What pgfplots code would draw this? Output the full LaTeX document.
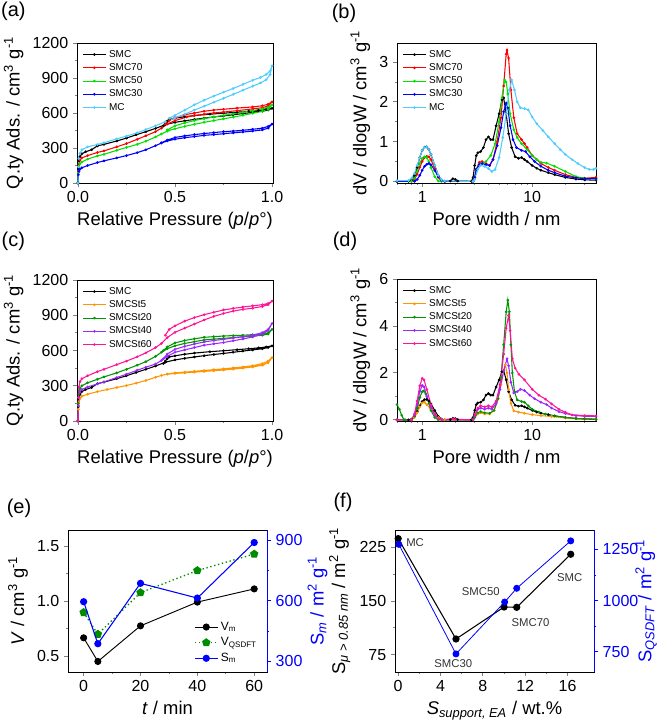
\documentclass[border=0pt]{standalone}
\usepackage{fontspec}
\setmainfont{Liberation Sans}
\usepackage{pgfplots}
\pgfplotsset{compat=1.18}
\usetikzlibrary{plotmarks}

\definecolor{cMC}{RGB}{80,205,255}
\definecolor{cR}{RGB}{255,0,0}
\definecolor{cG}{RGB}{0,225,0}
\definecolor{cB}{RGB}{0,0,255}
\definecolor{cOr}{RGB}{255,150,0}
\definecolor{cDG}{RGB}{0,150,0}
\definecolor{cPu}{RGB}{155,40,255}
\definecolor{cPk}{RGB}{255,20,150}
\definecolor{cEG}{RGB}{0,140,0}

\pgfplotsset{
  base/.style={scale only axis, anchor=south west, tick align=outside,
    xtick pos=bottom, ytick pos=left,
    major tick length=3pt, minor tick length=1.6pt,
    tick style={line width=0.6pt},
    tick label style={font=\fontsize{12}{14}\selectfont},
    label style={font=\fontsize{13.8}{16}\selectfont},
    /pgf/number format/assume math mode=true, /pgf/number format/1000 sep={},
    axis line style={line width=0.6pt},
    legend style={draw=none, fill=none, font=\fontsize{7.5}{8.5}\selectfont,
      at={(0.02,0.98)}, anchor=north west, inner sep=1pt, row sep=-0.8pt},
    legend cell align=left},
  iso/.style={base, xmin=-0.005, xmax=1.005, ymin=0, ymax=1200,
    xtick={0,0.5,1}, xticklabels={0.0,0.5,1.0}, minor x tick num=1,
    ytick={0,300,600,900,1200}, minor y tick num=1,
    xlabel={Relative Pressure (\textit{p}/\textit{p}°)},
    ylabel={Q.ty Ads. / cm\textsuperscript{3} g\textsuperscript{-1}}},
  psd/.style={base, xmin=0.59, xmax=38, xtick={1,10}, xticklabels={1,10},
    minor xtick={0.6,0.7,0.8,0.9,2,3,4,5,6,7,8,9,20,30}, minor y tick num=1,
    xlabel={Pore width / nm},
    ylabel={dV / dlogW / cm\textsuperscript{3} g\textsuperscript{-1}}},
  ln/.style={line width=0.8pt, mark=*, mark size=0.55pt},
}

\begin{document}
\begin{tikzpicture}
\path[use as bounding box] (0,0) rectangle (498pt,540.75pt);

\node[font=\fontsize{15}{17}\selectfont] at (10pt,532pt) {(a)};
\node[font=\fontsize{15}{17}\selectfont] at (258pt,531pt) {(b)};
\node[font=\fontsize{15}{17}\selectfont] at (10pt,360pt) {(c)};
\node[font=\fontsize{15}{17}\selectfont] at (258.75pt,360pt) {(d)};
\node[font=\fontsize{15}{17}\selectfont] at (14.25pt,159.75pt) {(e)};
\node[font=\fontsize{15}{17}\selectfont] at (257.25pt,164.25pt) {(f)};

% ---------------- (a)
\begin{axis}[iso, at={(57.75pt,403.5pt)}, width=147pt, height=105pt]
\addplot[ln, black] coordinates {(0,0)(0.002,120)(0.005,190)(0.01,225)(0.02,250)(0.04,268)(0.07,285)(0.1,318)(0.134,331)(0.2,360)(0.25,385)(0.3,413)(0.35,440)(0.4,468)(0.45,500)(0.5,520)(0.55,533)(0.6,545)(0.65,556)(0.7,566)(0.75,575)(0.8,585)(0.85,595)(0.9,605)(0.95,615)(0.98,625)(1.0,640)
 (0.97,630)(0.93,622)(0.88,615)(0.82,607)(0.75,598)(0.68,590)(0.6,578)(0.55,568)(0.5,555)(0.47,545)(0.46,530)(0.45,510)(0.44,490)};
\addlegendentry{SMC}
\addplot[ln, cR] coordinates {(0,0)(0.002,100)(0.005,160)(0.01,195)(0.02,215)(0.05,235)(0.1,262)(0.134,275)(0.2,310)(0.25,338)(0.305,374)(0.35,405)(0.4,440)(0.43,470)(0.46,505)(0.5,535)(0.56,565)(0.6,578)(0.65,590)(0.7,600)(0.75,608)(0.82,620)(0.9,635)(0.95,645)(0.98,660)(1.0,695)
 (0.98,675)(0.95,662)(0.9,652)(0.82,642)(0.75,632)(0.7,625)(0.65,615)(0.6,600)(0.55,585)(0.5,560)(0.47,535)(0.45,505)};
\addlegendentry{SMC70}
\addplot[ln, cG] coordinates {(0,0)(0.002,90)(0.005,140)(0.01,165)(0.02,180)(0.05,205)(0.1,232)(0.134,246)(0.2,280)(0.25,305)(0.305,331)(0.35,358)(0.4,395)(0.43,420)(0.46,445)(0.5,465)(0.55,485)(0.6,503)(0.65,520)(0.7,535)(0.75,550)(0.8,565)(0.85,580)(0.9,597)(0.95,615)(0.98,630)(1.0,670)
 (0.98,650)(0.95,636)(0.9,620)(0.85,606)(0.8,593)(0.75,580)(0.7,566)(0.65,552)(0.6,535)(0.55,515)(0.5,490)(0.46,455)};
\addlegendentry{SMC50}
\addplot[ln, cB] coordinates {(0,0)(0.002,70)(0.005,100)(0.01,118)(0.02,130)(0.05,150)(0.1,175)(0.134,190)(0.2,215)(0.25,235)(0.305,260)(0.35,285)(0.4,320)(0.43,342)(0.46,360)(0.5,375)(0.55,388)(0.6,398)(0.65,408)(0.7,415)(0.75,422)(0.8,430)(0.85,437)(0.9,445)(0.95,455)(0.98,470)(1.0,505)
 (0.98,485)(0.95,470)(0.9,460)(0.85,452)(0.8,445)(0.75,440)(0.7,432)(0.65,424)(0.6,415)(0.55,404)(0.5,390)(0.46,368)(0.43,345)};
\addlegendentry{SMC30}
\addplot[ln, cMC] coordinates {(0,0)(0.002,140)(0.005,210)(0.01,255)(0.02,285)(0.05,310)(0.1,330)(0.134,345)(0.2,378)(0.25,402)(0.305,430)(0.35,458)(0.4,490)(0.45,525)(0.5,557)(0.55,590)(0.6,625)(0.65,658)(0.7,692)(0.75,726)(0.8,760)(0.85,795)(0.9,830)(0.94,857)(0.97,885)(0.99,930)(1.0,1005)
 (0.99,960)(0.97,930)(0.94,905)(0.9,880)(0.85,845)(0.8,810)(0.75,778)(0.7,745)(0.65,710)(0.6,670)(0.55,625)(0.5,580)(0.47,555)};
\addlegendentry{MC}
\end{axis}

% ---------------- (b)
\begin{semilogxaxis}[psd, at={(297.75pt,403.5pt)}, width=149.25pt, height=105pt, ymin=-0.04, ymax=3.48, ytick={0,1,2,3}]
\addplot[ln, black] coordinates {(0.59,0)(0.75,0)(0.8,0.03)(0.85,0.15)(0.9,0.35)(0.95,0.6)(1.0,0.78)(1.05,0.86)(1.1,0.87)(1.15,0.8)(1.2,0.68)(1.3,0.4)(1.4,0.15)(1.5,0.03)(1.6,0)(1.8,0.01)(1.9,0.07)(2.0,0.05)(2.1,0.01)(2.8,0)(2.9,0.1)(3.0,0.4)(3.1,0.65)(3.2,0.72)(3.4,0.75)(3.6,0.85)(3.8,1.05)(4.0,1.12)(4.2,1.05)(4.4,1.05)(4.7,1.4)(5.0,1.7)(5.3,2.05)(5.5,2.1)(5.8,1.7)(6.1,1.2)(6.5,0.85)(7.0,0.62)(7.5,0.58)(8.0,0.6)(8.5,0.55)(9,0.5)(10,0.4)(11,0.33)(12,0.28)(14,0.22)(16,0.17)(20,0.1)(25,0.06)(30,0.04)(38,0.03)};
\addlegendentry{SMC}
\addplot[ln, cR] coordinates {(0.59,0)(0.8,0)(0.85,0.05)(0.9,0.18)(0.95,0.35)(1.0,0.5)(1.05,0.6)(1.1,0.63)(1.15,0.62)(1.2,0.55)(1.3,0.32)(1.4,0.1)(1.5,0.01)(1.6,0)(2.9,0)(3.0,0.1)(3.1,0.3)(3.3,0.48)(3.5,0.5)(3.8,0.45)(4.1,0.4)(4.4,0.55)(4.8,1.0)(5.2,1.6)(5.5,2.4)(5.8,3.2)(5.9,3.3)(6.1,3.1)(6.4,2.3)(6.8,1.6)(7.3,1.2)(8.0,1.05)(8.5,0.95)(9.0,0.85)(10,0.65)(11,0.55)(12,0.45)(14,0.35)(16,0.28)(20,0.17)(25,0.1)(30,0.08)(38,0.1)};
\addlegendentry{SMC70}
\addplot[ln, cG] coordinates {(0.59,0)(0.8,0)(0.85,0.08)(0.9,0.25)(0.95,0.45)(1.0,0.58)(1.05,0.62)(1.1,0.6)(1.15,0.5)(1.2,0.35)(1.3,0.12)(1.4,0.01)(1.5,0)(2.9,0)(3.0,0.1)(3.1,0.3)(3.3,0.42)(3.5,0.45)(3.8,0.5)(4.2,0.65)(4.6,0.95)(5.0,1.5)(5.3,2.1)(5.6,2.55)(5.8,2.5)(6.0,2.2)(6.3,1.7)(6.8,1.3)(7.3,1.1)(8,0.95)(9,0.8)(10,0.65)(11,0.55)(12,0.48)(13.5,0.46)(16,0.38)(20,0.25)(25,0.12)(30,0.08)(38,0.06)};
\addlegendentry{SMC50}
\addplot[ln, cB] coordinates {(0.59,0)(0.85,0)(0.9,0.05)(0.95,0.15)(1.0,0.28)(1.05,0.38)(1.1,0.43)(1.15,0.45)(1.2,0.42)(1.3,0.28)(1.4,0.12)(1.5,0.03)(1.6,0)(2.9,0)(3.0,0.1)(3.1,0.3)(3.3,0.42)(3.5,0.45)(3.8,0.42)(4.1,0.4)(4.4,0.55)(4.8,0.9)(5.2,1.35)(5.5,1.75)(5.8,1.97)(6.0,1.85)(6.3,1.4)(6.7,1.05)(7.2,0.85)(8,0.78)(8.7,0.75)(9.5,0.62)(10.5,0.5)(12,0.38)(14,0.28)(16,0.22)(20,0.13)(25,0.09)(30,0.07)(38,0.07)};
\addlegendentry{SMC30}
\addplot[ln, cMC] coordinates {(0.59,0.02)(0.75,0.02)(0.8,0.08)(0.85,0.2)(0.9,0.4)(0.95,0.6)(1.0,0.78)(1.05,0.85)(1.1,0.87)(1.15,0.8)(1.2,0.68)(1.3,0.4)(1.4,0.15)(1.5,0.04)(1.6,0.01)(2.9,0)(3.0,0.05)(3.2,0.3)(3.4,0.4)(3.7,0.38)(4.0,0.32)(4.3,0.25)(4.6,0.3)(5.0,0.6)(5.4,1.1)(5.8,1.7)(6.2,2.3)(6.5,2.55)(6.9,2.3)(7.3,2.0)(7.8,1.85)(8.5,1.83)(9.2,1.8)(10,1.62)(11,1.45)(12.5,1.28)(14,1.12)(16,0.95)(18,0.8)(20,0.68)(23,0.55)(26,0.45)(30,0.35)(33,0.3)(36,0.3)(38,0.33)};
\addlegendentry{MC}
\end{semilogxaxis}

% ---------------- (c)
\begin{axis}[iso, at={(57.75pt,225pt)}, width=147pt, height=105.75pt]
\addplot[ln, black] coordinates {(0,0)(0.002,120)(0.005,190)(0.01,225)(0.02,250)(0.04,268)(0.07,285)(0.1,318)(0.134,331)(0.2,360)(0.25,385)(0.3,413)(0.35,440)(0.4,468)(0.45,500)(0.5,520)(0.55,533)(0.6,545)(0.65,556)(0.7,566)(0.75,575)(0.8,585)(0.85,595)(0.9,605)(0.95,615)(0.98,625)(1.0,640)
 (0.97,630)(0.93,622)(0.88,615)(0.82,607)(0.75,598)(0.68,590)(0.6,578)(0.55,568)(0.5,555)(0.47,545)(0.46,530)(0.45,510)(0.44,490)};
\addlegendentry{SMC}
\addplot[ln, cOr] coordinates {(0,0)(0.002,100)(0.005,160)(0.01,190)(0.02,210)(0.05,228)(0.1,250)(0.15,268)(0.2,285)(0.25,302)(0.3,322)(0.35,345)(0.4,372)(0.43,388)(0.46,398)(0.5,405)(0.55,410)(0.6,416)(0.65,422)(0.7,428)(0.75,434)(0.8,442)(0.85,450)(0.9,460)(0.95,475)(0.98,495)(1.0,540)
 (0.98,510)(0.95,488)(0.9,470)(0.85,460)(0.8,452)(0.75,444)(0.7,437)(0.65,430)(0.6,423)(0.55,416)(0.5,410)(0.46,400)};
\addlegendentry{SMCSt5}
\addplot[ln, cDG] coordinates {(0,0)(0.002,150)(0.005,230)(0.01,275)(0.02,300)(0.05,325)(0.1,355)(0.134,375)(0.2,410)(0.25,440)(0.305,475)(0.35,505)(0.4,550)(0.43,585)(0.46,615)(0.5,640)(0.55,660)(0.6,675)(0.65,690)(0.7,697)(0.75,703)(0.8,710)(0.85,716)(0.9,722)(0.95,730)(0.98,740)(1.0,780)
 (0.98,750)(0.95,740)(0.9,735)(0.85,730)(0.8,727)(0.75,723)(0.7,718)(0.65,712)(0.6,700)(0.55,685)(0.5,665)(0.46,630)(0.44,600)};
\addlegendentry{SMCSt20}
\addplot[ln, cPu] coordinates {(0,0)(0.002,130)(0.005,200)(0.01,245)(0.02,268)(0.05,290)(0.1,315)(0.134,333)(0.2,370)(0.25,398)(0.305,432)(0.35,458)(0.4,485)(0.43,515)(0.46,550)(0.5,585)(0.55,605)(0.6,625)(0.65,645)(0.7,657)(0.75,668)(0.8,683)(0.85,698)(0.9,715)(0.95,740)(0.98,770)(1.0,830)
 (0.98,780)(0.95,752)(0.9,730)(0.85,718)(0.8,707)(0.75,695)(0.7,685)(0.65,673)(0.6,655)(0.55,635)(0.5,610)(0.46,570)(0.44,530)};
\addlegendentry{SMCSt40}
\addplot[ln, cPk] coordinates {(0,0)(0.002,200)(0.005,290)(0.01,335)(0.02,360)(0.05,385)(0.1,420)(0.134,440)(0.2,480)(0.25,510)(0.305,546)(0.35,580)(0.4,625)(0.43,660)(0.46,710)(0.5,755)(0.55,790)(0.6,825)(0.65,860)(0.7,890)(0.75,915)(0.8,935)(0.85,950)(0.9,960)(0.95,975)(0.98,990)(1.0,1020)
 (0.98,1000)(0.95,990)(0.9,980)(0.85,970)(0.8,958)(0.75,945)(0.7,925)(0.65,905)(0.6,880)(0.55,850)(0.5,810)(0.47,780)(0.45,730)};
\addlegendentry{SMCSt60}
\end{axis}

% ---------------- (d)
\begin{semilogxaxis}[psd, at={(297.75pt,225pt)}, width=149.25pt, height=106.5pt, ymin=-0.05, ymax=6, ytick={0,2,4,6}]
\addplot[ln, black] coordinates {(0.59,0)(0.75,0)(0.8,0.03)(0.85,0.15)(0.9,0.35)(0.95,0.6)(1.0,0.78)(1.05,0.86)(1.1,0.87)(1.15,0.8)(1.2,0.68)(1.3,0.4)(1.4,0.15)(1.5,0.03)(1.6,0)(1.8,0.01)(1.9,0.07)(2.0,0.05)(2.1,0.01)(2.8,0)(2.9,0.1)(3.0,0.4)(3.1,0.65)(3.2,0.72)(3.4,0.75)(3.6,0.85)(3.8,1.05)(4.0,1.12)(4.2,1.05)(4.4,1.05)(4.7,1.4)(5.0,1.7)(5.3,2.05)(5.5,2.1)(5.8,1.7)(6.1,1.2)(6.5,0.85)(7.0,0.62)(7.5,0.58)(8.0,0.6)(8.5,0.55)(9,0.5)(10,0.4)(11,0.33)(12,0.28)(14,0.22)(16,0.17)(20,0.1)(25,0.06)(30,0.04)(38,0.03)};
\addlegendentry{SMC}
\addplot[ln, cOr] coordinates {(0.59,0)(0.8,0)(0.85,0.1)(0.9,0.3)(0.95,0.55)(1.0,0.72)(1.05,0.75)(1.1,0.65)(1.2,0.45)(1.3,0.25)(1.4,0.1)(1.5,0.02)(1.6,0)(2.9,0)(3.0,0.1)(3.2,0.25)(3.4,0.3)(3.7,0.25)(4.1,0.25)(4.5,0.4)(4.9,0.9)(5.2,1.5)(5.5,2.1)(5.7,2.35)(5.9,2.0)(6.1,1.3)(6.4,0.7)(6.8,0.38)(7.5,0.33)(8.5,0.28)(10,0.22)(12,0.18)(15,0.14)(20,0.08)(25,0.05)(30,0.03)(38,0.02)};
\addlegendentry{SMCSt5}
\addplot[ln, cDG] coordinates {(0.59,0.65)(0.62,0.45)(0.65,0.2)(0.68,0.02)(0.7,0)(0.8,0)(0.85,0.15)(0.9,0.5)(0.95,0.95)(1.0,1.2)(1.03,1.23)(1.08,1.1)(1.15,0.7)(1.2,0.4)(1.3,0.1)(1.4,0)(2.9,0)(3.0,0.1)(3.2,0.3)(3.4,0.35)(3.7,0.3)(4.1,0.28)(4.5,0.4)(4.9,0.9)(5.2,1.8)(5.5,3.2)(5.8,4.6)(6.0,5.1)(6.2,4.6)(6.4,3.2)(6.6,2.0)(6.9,1.2)(7.3,0.85)(8.0,0.78)(8.5,0.75)(9.2,0.6)(10,0.45)(11.5,0.33)(13.2,0.24)(16,0.16)(20,0.1)(25,0.05)(30,0.03)(38,0.02)};
\addlegendentry{SMCSt20}
\addplot[ln, cPu] coordinates {(0.59,0)(0.8,0)(0.85,0.2)(0.9,0.65)(0.95,1.2)(1.0,1.47)(1.04,1.4)(1.1,1.0)(1.2,0.5)(1.3,0.2)(1.4,0.05)(1.5,0)(2.9,0)(3.0,0.15)(3.2,0.45)(3.4,0.5)(3.7,0.45)(4.0,0.5)(4.3,0.45)(4.7,0.7)(5.1,1.3)(5.5,2.1)(5.9,2.6)(6.1,2.3)(6.4,1.6)(6.8,1.15)(7.3,1.2)(7.8,1.3)(8.5,1.25)(9.5,1.05)(10.5,0.9)(12,0.75)(13.5,0.65)(15,0.5)(17.5,0.35)(20,0.27)(25,0.18)(30,0.15)(38,0.15)};
\addlegendentry{SMCSt40}
\addplot[ln, cPk] coordinates {(0.59,0)(0.8,0)(0.85,0.25)(0.9,0.8)(0.95,1.45)(1.0,1.77)(1.04,1.7)(1.1,1.3)(1.2,0.65)(1.3,0.25)(1.4,0.05)(1.5,0)(1.9,0.05)(2.0,0.02)(2.9,0)(3.0,0.2)(3.2,0.5)(3.4,0.6)(3.7,0.55)(4.0,0.6)(4.3,0.55)(4.7,0.8)(5.1,1.5)(5.5,2.8)(5.8,3.9)(6.1,4.45)(6.3,3.8)(6.6,2.6)(7.0,2.2)(7.56,1.94)(8.5,1.7)(10,1.3)(11.5,1.05)(13.2,0.88)(15,0.68)(17.5,0.45)(20,0.32)(23,0.21)(30,0.18)(38,0.17)};
\addlegendentry{SMCSt60}
\end{semilogxaxis}

% ---------------- (e)
\begin{axis}[base, at={(51pt,36.75pt)}, width=149.25pt, height=106.5pt,
  xmin=-5.5, xmax=64.5, ymin=0.354, ymax=1.646,
  xtick={0,20,40,60}, minor x tick num=1, ytick={0.5,1.0,1.5}, minor y tick num=1,
  yticklabel style={/pgf/number format/fixed, /pgf/number format/fixed zerofill, /pgf/number format/precision=1},
  xlabel={\textit{t} / min}, ylabel={\textit{V} / cm\textsuperscript{3} g\textsuperscript{-1}}]
\addplot[black, line width=0.7pt, mark=*, mark size=2.3pt] coordinates {(0,0.665)(5,0.45)(20,0.774)(40,0.99)(60,1.11)};
\addplot[cEG, dotted, line width=1pt, mark=pentagon*, mark size=2.7pt, mark options={solid}] coordinates {(0,0.896)(5,0.698)(20,1.076)(40,1.277)(60,1.427)};
\end{axis}
\begin{axis}[base, at={(51pt,36.75pt)}, width=149.25pt, height=106.5pt,
  xmin=-5.5, xmax=64.5, ymin=247, ymax=950, axis x line=none, axis y line*=right, ytick pos=right,
  ytick={300,600,900}, minor y tick num=1,
  y axis line style={cB, line width=0.6pt}, ytick style={cB}, yticklabel style={cB},
  ylabel style={cB}, ylabel shift=-3pt,
  ylabel={S\textsubscript{\textit{m}} / m\textsuperscript{2} g\textsuperscript{-1}},
  legend style={at={(0.97,0.03)}, anchor=south east, font=\fontsize{9}{10.5}\selectfont, row sep=0pt}]
\addlegendimage{black, line width=0.7pt, mark=*, mark size=2.3pt}
\addlegendentry{V\textsubscript{m}}
\addlegendimage{cEG, dotted, line width=1pt, mark=pentagon*, mark size=2.7pt, mark options={solid}}
\addlegendentry{V\textsubscript{QSDFT}}
\addplot[cB, line width=0.8pt, mark=*, mark size=2.3pt] coordinates {(0,595)(5,387)(20,686)(40,613)(60,888)};
\addlegendentry{S\textsubscript{m}}
\end{axis}

% ---------------- (f)
\begin{axis}[base, at={(296.25pt,36.75pt)}, width=149.25pt, height=106.5pt,
  xmin=-0.3, xmax=18.5, ymin=51, ymax=249,
  xtick={0,4,8,12,16}, minor x tick num=1, ytick={75,150,225}, minor y tick num=1,
  xlabel={\textit{S}\textsubscript{\textit{support, EA}} / wt.\%},
  ylabel={S\textsubscript{\textit{μ > 0.85 nm}} / m\textsuperscript{2} g\textsuperscript{-1}}]
\addplot[black, line width=0.8pt, mark=*, mark size=2.3pt] coordinates {(0,237)(5.46,97)(10.0,141.6)(11.2,141.2)(16.3,215.2)};
\node[font=\fontsize{8.5}{10}\selectfont, text=black!80] at (axis cs:1.6,232) {MC};
\node[font=\fontsize{8.5}{10}\selectfont, text=black!80] at (axis cs:5.2,63) {SMC30};
\node[font=\fontsize{8.5}{10}\selectfont, text=black!80] at (axis cs:7.8,163) {SMC50};
\node[font=\fontsize{8.5}{10}\selectfont, text=black!80] at (axis cs:12.5,120) {SMC70};
\node[font=\fontsize{8.5}{10}\selectfont, text=black!80] at (axis cs:16.2,182) {SMC};
\end{axis}
\begin{axis}[base, at={(296.25pt,36.75pt)}, width=149.25pt, height=106.5pt,
  xmin=-0.3, xmax=18.5, ymin=652, ymax=1344, axis x line=none, axis y line*=right, ytick pos=right,
  ytick={750,1000,1250}, minor y tick num=1,
  y axis line style={cB, line width=0.6pt}, ytick style={cB}, yticklabel style={cB},
  ylabel style={cB}, ylabel shift=-9pt,
  ylabel={S\textsubscript{\textit{QSDFT}} / m\textsuperscript{2} g\textsuperscript{-1}}]
\addplot[cB, line width=0.6pt, mark=*, mark size=2.3pt] coordinates {(0.06,1274)(5.46,740)(10.06,993)(11.2,1060)(16.3,1291)};
\end{axis}
\end{tikzpicture}
\end{document}
